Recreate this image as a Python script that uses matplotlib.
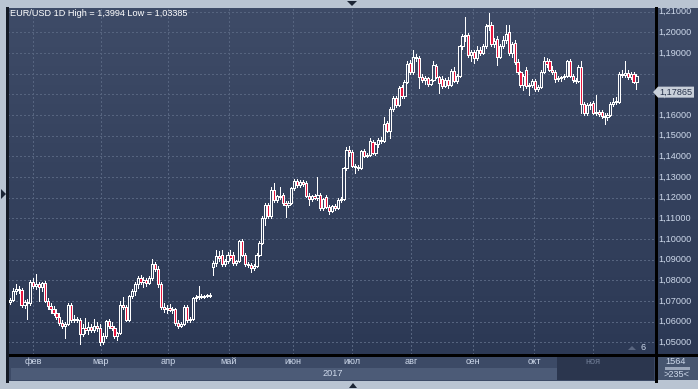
import numpy as np
import matplotlib
matplotlib.use('Agg')
import matplotlib.pyplot as plt
from matplotlib.patches import Rectangle, Polygon
from matplotlib.lines import Line2D
from matplotlib.transforms import blended_transform_factory

plt.rcParams['font.family'] = ['Liberation Sans', 'DejaVu Sans']

# EUR/USD daily candles
opens = [
    1.0695, 1.0705, 1.0750, 1.0760, 1.0755, 1.0680, 1.0695, 1.0690, 1.0790, 1.0775,
    1.0780, 1.0770, 1.0785, 1.0700, 1.0675, 1.0660, 1.0640, 1.0625, 1.0595, 1.0580,
    1.0590, 1.0680, 1.0610, 1.0615, 1.0610, 1.0540, 1.0570, 1.0560, 1.0575, 1.0560,
    1.0580, 1.0570, 1.0500, 1.0530, 1.0605, 1.0580, 1.0570, 1.0530, 1.0545, 1.0680,
    1.0670, 1.0610, 1.0725, 1.0750, 1.0780, 1.0810, 1.0790, 1.0800, 1.0785, 1.0810,
    1.0880, 1.0855, 1.0780, 1.0670, 1.0660, 1.0665, 1.0655, 1.0660, 1.0595, 1.0580,
    1.0590, 1.0670, 1.0610, 1.0615, 1.0715, 1.0720, 1.0725, 1.0720, 1.0725, 1.0728,
    1.0865, 1.0885, 1.0920, 1.0925, 1.0880, 1.0895, 1.0925, 1.0925, 1.0885, 1.0895,
    1.0990, 1.0925, 1.0880, 1.0875, 1.0860, 1.0870, 1.0925, 1.0980, 1.1100, 1.1165,
    1.1110, 1.1235, 1.1190, 1.1210, 1.1215, 1.1175, 1.1165, 1.1175, 1.1245, 1.1280,
    1.1260, 1.1275, 1.1270, 1.1210, 1.1195, 1.1210, 1.1200, 1.1215, 1.1150, 1.1205,
    1.1155, 1.1135, 1.1160, 1.1150, 1.1190, 1.1195, 1.1345, 1.1430, 1.1420, 1.1355,
    1.1350, 1.1345, 1.1425, 1.1400, 1.1405, 1.1470, 1.1415, 1.1460, 1.1480, 1.1475,
    1.1560, 1.1525, 1.1630, 1.1680, 1.1650, 1.1735, 1.1690, 1.1760, 1.1850, 1.1810,
    1.1880, 1.1875, 1.1785, 1.1770, 1.1780, 1.1750, 1.1770, 1.1835, 1.1785, 1.1775,
    1.1740, 1.1770, 1.1745, 1.1815, 1.1765, 1.1790, 1.1935, 1.1980, 1.1985, 1.1890,
    1.1905, 1.1875, 1.1915, 1.1900, 1.1935, 1.2030, 1.2035, 1.1945, 1.1970, 1.1880,
    1.1935, 1.1965, 1.2000, 1.1900, 1.1950, 1.1855, 1.1810, 1.1745, 1.1820, 1.1740,
    1.1745, 1.1765, 1.1725, 1.1735, 1.1810, 1.1860, 1.1860, 1.1820, 1.1810, 1.1775,
    1.1780, 1.1785, 1.1790, 1.1860, 1.1790, 1.1770, 1.1765, 1.1830, 1.1655, 1.1610,
    1.1650, 1.1660, 1.1610, 1.1615, 1.1615, 1.1595, 1.1590, 1.1600, 1.1655, 1.1665,
    1.1665, 1.1800, 1.1795, 1.1805, 1.1785, 1.1800, 1.1760,
]
highs = [
    1.0715, 1.0765, 1.0780, 1.0775, 1.0765, 1.0705, 1.0710, 1.0800, 1.0810, 1.0830,
    1.0790, 1.0790, 1.0795, 1.0715, 1.0690, 1.0675, 1.0660, 1.0640, 1.0610, 1.0600,
    1.0690, 1.0690, 1.0630, 1.0625, 1.0620, 1.0590, 1.0620, 1.0600, 1.0590, 1.0615,
    1.0600, 1.0590, 1.0545, 1.0610, 1.0615, 1.0600, 1.0580, 1.0550, 1.0700, 1.0720,
    1.0680, 1.0730, 1.0760, 1.0790, 1.0820, 1.0825, 1.0815, 1.0810, 1.0820, 1.0905,
    1.0890, 1.0870, 1.0790, 1.0690, 1.0680, 1.0685, 1.0670, 1.0665, 1.0610, 1.0600,
    1.0680, 1.0680, 1.0625, 1.0720, 1.0730, 1.0775, 1.0735, 1.0730, 1.0735, 1.0740,
    1.0895, 1.0945, 1.0940, 1.0945, 1.0905, 1.0935, 1.0945, 1.0935, 1.0900, 1.0995,
    1.1000, 1.0930, 1.0890, 1.0885, 1.0880, 1.0930, 1.0990, 1.1110, 1.1175, 1.1175,
    1.1250, 1.1270, 1.1215, 1.1250, 1.1225, 1.1185, 1.1185, 1.1250, 1.1290, 1.1290,
    1.1285, 1.1285, 1.1280, 1.1225, 1.1215, 1.1220, 1.1300, 1.1225, 1.1200, 1.1215,
    1.1165, 1.1165, 1.1170, 1.1200, 1.1205, 1.1350, 1.1445, 1.1450, 1.1430, 1.1365,
    1.1360, 1.1430, 1.1435, 1.1415, 1.1490, 1.1480, 1.1470, 1.1490, 1.1495, 1.1590,
    1.1570, 1.1640, 1.1690, 1.1690, 1.1740, 1.1745, 1.1770, 1.1860, 1.1865, 1.1915,
    1.1895, 1.1885, 1.1800, 1.1790, 1.1785, 1.1775, 1.1860, 1.1845, 1.1790, 1.1790,
    1.1780, 1.1785, 1.1825, 1.1830, 1.1800, 1.1940, 1.1990, 1.2075, 1.1995, 1.1915,
    1.1915, 1.1935, 1.1930, 1.1945, 1.2040, 1.2092, 1.2050, 1.1975, 1.1980, 1.1945,
    1.1980, 1.2035, 1.2035, 1.1955, 1.1965, 1.1870, 1.1815, 1.1800, 1.1830, 1.1755,
    1.1775, 1.1775, 1.1745, 1.1820, 1.1880, 1.1875, 1.1870, 1.1835, 1.1820, 1.1790,
    1.1790, 1.1800, 1.1865, 1.1870, 1.1800, 1.1780, 1.1840, 1.1860, 1.1665, 1.1660,
    1.1665, 1.1670, 1.1695, 1.1625, 1.1625, 1.1610, 1.1610, 1.1665, 1.1680, 1.1685,
    1.1810, 1.1820, 1.1862, 1.1820, 1.1810, 1.1810, 1.1800,
]
lows = [
    1.0685, 1.0700, 1.0735, 1.0740, 1.0670, 1.0665, 1.0615, 1.0680, 1.0765, 1.0760,
    1.0700, 1.0750, 1.0695, 1.0660, 1.0640, 1.0630, 1.0615, 1.0585, 1.0570, 1.0520,
    1.0585, 1.0600, 1.0600, 1.0600, 1.0490, 1.0530, 1.0545, 1.0540, 1.0550, 1.0550,
    1.0555, 1.0485, 1.0490, 1.0520, 1.0570, 1.0560, 1.0520, 1.0510, 1.0540, 1.0660,
    1.0605, 1.0605, 1.0715, 1.0730, 1.0765, 1.0780, 1.0770, 1.0775, 1.0780, 1.0800,
    1.0845, 1.0770, 1.0660, 1.0645, 1.0640, 1.0650, 1.0640, 1.0585, 1.0570, 1.0575,
    1.0585, 1.0600, 1.0600, 1.0610, 1.0700, 1.0710, 1.0715, 1.0715, 1.0718, 1.0720,
    1.0825, 1.0870, 1.0895, 1.0870, 1.0870, 1.0885, 1.0900, 1.0875, 1.0875, 1.0890,
    1.0920, 1.0870, 1.0865, 1.0840, 1.0850, 1.0865, 1.0920, 1.0975, 1.1070, 1.1100,
    1.1100, 1.1180, 1.1180, 1.1195, 1.1165, 1.1105, 1.1155, 1.1170, 1.1235, 1.1250,
    1.1250, 1.1255, 1.1205, 1.1165, 1.1185, 1.1195, 1.1190, 1.1140, 1.1140, 1.1150,
    1.1120, 1.1130, 1.1140, 1.1145, 1.1180, 1.1190, 1.1335, 1.1400, 1.1350, 1.1320,
    1.1335, 1.1340, 1.1395, 1.1395, 1.1400, 1.1410, 1.1405, 1.1445, 1.1465, 1.1470,
    1.1520, 1.1490, 1.1620, 1.1640, 1.1645, 1.1680, 1.1680, 1.1755, 1.1800, 1.1800,
    1.1860, 1.1730, 1.1760, 1.1750, 1.1740, 1.1745, 1.1765, 1.1780, 1.1705, 1.1730,
    1.1735, 1.1730, 1.1740, 1.1760, 1.1755, 1.1785, 1.1920, 1.1960, 1.1880, 1.1860,
    1.1850, 1.1865, 1.1890, 1.1895, 1.1925, 1.2010, 1.1935, 1.1930, 1.1840, 1.1875,
    1.1925, 1.1950, 1.1890, 1.1880, 1.1845, 1.1800, 1.1735, 1.1720, 1.1730, 1.1695,
    1.1735, 1.1715, 1.1715, 1.1730, 1.1805, 1.1830, 1.1815, 1.1800, 1.1760, 1.1765,
    1.1765, 1.1775, 1.1785, 1.1785, 1.1760, 1.1755, 1.1760, 1.1610, 1.1600, 1.1600,
    1.1630, 1.1605, 1.1600, 1.1595, 1.1585, 1.1555, 1.1575, 1.1595, 1.1645, 1.1655,
    1.1660, 1.1785, 1.1785, 1.1775, 1.1775, 1.1755, 1.1725,
]
closes = [
    1.0705, 1.0750, 1.0760, 1.0755, 1.0680, 1.0695, 1.0690, 1.0790, 1.0775, 1.0780,
    1.0770, 1.0785, 1.0700, 1.0675, 1.0660, 1.0640, 1.0625, 1.0595, 1.0580, 1.0590,
    1.0680, 1.0610, 1.0615, 1.0610, 1.0540, 1.0570, 1.0560, 1.0575, 1.0560, 1.0580,
    1.0570, 1.0500, 1.0530, 1.0605, 1.0580, 1.0570, 1.0530, 1.0545, 1.0680, 1.0670,
    1.0610, 1.0725, 1.0750, 1.0780, 1.0810, 1.0790, 1.0800, 1.0785, 1.0810, 1.0880,
    1.0855, 1.0780, 1.0670, 1.0660, 1.0665, 1.0655, 1.0660, 1.0595, 1.0580, 1.0590,
    1.0670, 1.0610, 1.0615, 1.0715, 1.0720, 1.0725, 1.0720, 1.0725, 1.0728, 1.0725,
    1.0885, 1.0920, 1.0910, 1.0880, 1.0895, 1.0925, 1.0910, 1.0885, 1.0895, 1.0990,
    1.0925, 1.0880, 1.0875, 1.0860, 1.0870, 1.0925, 1.0980, 1.1100, 1.1165, 1.1110,
    1.1235, 1.1190, 1.1210, 1.1205, 1.1175, 1.1165, 1.1175, 1.1245, 1.1280, 1.1260,
    1.1275, 1.1265, 1.1210, 1.1195, 1.1210, 1.1200, 1.1215, 1.1150, 1.1195, 1.1155,
    1.1135, 1.1160, 1.1150, 1.1190, 1.1195, 1.1345, 1.1430, 1.1420, 1.1355, 1.1350,
    1.1345, 1.1425, 1.1400, 1.1405, 1.1475, 1.1415, 1.1460, 1.1480, 1.1475, 1.1555,
    1.1525, 1.1630, 1.1680, 1.1650, 1.1730, 1.1690, 1.1760, 1.1845, 1.1810, 1.1880,
    1.1875, 1.1785, 1.1770, 1.1780, 1.1750, 1.1770, 1.1840, 1.1785, 1.1755, 1.1740,
    1.1770, 1.1745, 1.1815, 1.1765, 1.1790, 1.1935, 1.1980, 1.1985, 1.1890, 1.1905,
    1.1875, 1.1915, 1.1900, 1.1935, 1.2030, 1.2035, 1.1945, 1.1960, 1.1880, 1.1935,
    1.1965, 1.1990, 1.1900, 1.1945, 1.1855, 1.1810, 1.1745, 1.1790, 1.1740, 1.1745,
    1.1765, 1.1725, 1.1735, 1.1810, 1.1860, 1.1845, 1.1820, 1.1810, 1.1775, 1.1780,
    1.1785, 1.1790, 1.1860, 1.1790, 1.1770, 1.1765, 1.1830, 1.1655, 1.1610, 1.1650,
    1.1655, 1.1610, 1.1615, 1.1605, 1.1595, 1.1590, 1.1600, 1.1655, 1.1665, 1.1670,
    1.1800, 1.1795, 1.1805, 1.1785, 1.1800, 1.1760, 1.17865,
]

month_labels = ['фев', 'мар', 'апр', 'май', 'июн', 'июл', 'авг', 'сен', 'окт', 'ноя']
month_pos = [7.9, 31.4, 54.5, 75.5, 97.6, 117.9, 138.3, 159.7, 180.7, 201.0]  # candle index
price_ticks = [1.05, 1.06, 1.07, 1.08, 1.09, 1.10, 1.11, 1.12, 1.13, 1.14,
               1.15, 1.16, 1.17, 1.18, 1.19, 1.20, 1.21]
title = 'EUR/USD 1D High = 1,3994 Low = 1,03385'
year_label = '2017'
last_price = 1.17865

# colours
frame_c = '#b9c4d2'
bg_top = np.array([62, 75, 103]) / 255
bg_bot = np.array([44, 57, 85]) / 255
grid_c = '#56647f'
txt_c = '#cdd8ea'
red_c = '#e8173f'

W, H = 698, 389
fig = plt.figure(figsize=(W / 100, H / 100), dpi=100, facecolor=frame_c)


def box(x0, y0, x1, y1):
    return [x0 / W, 1 - y1 / H, (x1 - x0) / W, (y1 - y0) / H]


def rect(x0, y0, x1, y1, color):
    fig.add_artist(Rectangle((x0 / W, 1 - y1 / H), (x1 - x0) / W, (y1 - y0) / H,
                             transform=fig.transFigure, color=color, lw=0, zorder=-2))


def hline(x0, x1, y, color='black', z=2):
    fig.add_artist(Line2D([x0 / W, x1 / W], [1 - y / H] * 2, color=color, lw=0.75,
                          transform=fig.transFigure, antialiased=False, zorder=z))


def vline(x, y0, y1, color='black'):
    fig.add_artist(Line2D([x / W] * 2, [1 - y0 / H, 1 - y1 / H], color=color, lw=0.75,
                          transform=fig.transFigure, antialiased=False, zorder=2))


def tri(pts, color, z=2):
    fig.add_artist(Polygon([(px / W, 1 - py / H) for px, py in pts], closed=True,
                           transform=fig.transFigure, color=color, lw=0, zorder=z))


# gradient background behind the chart and price scale
bg = fig.add_axes(box(8, 8, 698, 354))
bg.set_zorder(-1)
grad = np.linspace(bg_top, bg_bot, 256)[:, None, :]
bg.imshow(grad, aspect='auto', extent=[0, 1, 0, 1])
bg.axis('off')

ax = fig.add_axes(box(8, 8, 655, 354), facecolor='none')
ymin, ymax = 1.04436, 1.21179
ax.set_xlim(-0.69, 222.41)
ax.set_ylim(ymin, ymax)

o = np.array(opens)
h = np.array(highs)
l = np.array(lows)
c = np.array(closes)
x = np.arange(len(c))
lo = np.minimum(o, c)
hi = np.maximum(o, c)


def bg_at(p):
    t = (ymax - p) / (ymax - ymin)
    return tuple(bg_top + t * (bg_bot - bg_top))


faces = [bg_at((a + b) / 2) if cc >= oo else red_c
         for a, b, oo, cc in zip(lo, hi, o, c)]

ax.vlines(x, hi, h, color='white', lw=0.72, antialiased=False, zorder=3)
ax.vlines(x, l, lo, color='white', lw=0.72, antialiased=False, zorder=3)
ax.bar(x, hi - lo, bottom=lo, width=0.76, color=faces, edgecolor='white',
       linewidth=0.7, antialiased=False, zorder=4)

# grid and price scale
ax.set_xticks(month_pos)
ax.set_yticks(price_ticks)
ax.tick_params(length=0, labelbottom=False, labelleft=False)
ax.grid(True, color=grid_c, linestyle=(0, (2, 3)), linewidth=0.7, antialiased=False)
ax.set_axisbelow(True)
for s in ax.spines.values():
    s.set_visible(False)

ytr = blended_transform_factory(fig.transFigure, ax.transData)
for p in price_ticks:
    if abs(p - 1.18) < 1e-9:
        continue  # hidden under the last-price marker
    ax.text(658.5 / W, p, f'{p:.5f}'.replace('.', ','), transform=ytr, ha='left',
            va='center', fontsize=6.6, color=txt_c, clip_on=False)

# time axis panels
rect(8, 355, 655, 381, '#3c4a66')
rect(11, 368, 557, 380, '#4c5b77')
rect(557, 355, 654, 380, '#2b364e')
rect(656, 355, 698, 380, '#46556f')
hline(8, 698, 354.5)
vline(655.5, 8, 381)
vline(7.5, 8, 381, '#141a26')

tr = blended_transform_factory(ax.transData, fig.transFigure)
for pos, lab in zip(month_pos, month_labels):
    col = '#707d96' if lab == 'ноя' else txt_c
    ax.text(pos, 1 - 361.5 / H, lab, transform=tr, ha='center', va='center',
            fontsize=6.6, color=col, clip_on=False)
fig.text(333 / W, 1 - 374 / H, year_label, ha='center', va='center',
         fontsize=6.6, color=txt_c)

# bottom-right counter
fig.text(676 / W, 1 - 361.5 / H, '1564', ha='center', va='center', fontsize=6.6, color=txt_c)
hline(666, 688, 368, '#9aa6ba')
fig.text(676 / W, 1 - 374.5 / H, '>235<', ha='center', va='center', fontsize=6.6, color=txt_c)

# last price marker
yp = 31 + (1.21 - last_price) * 1950
tri([(653, yp), (658, yp - 5.5), (694, yp - 5.5), (694, yp + 5.5), (658, yp + 5.5)], '#c9d0da')
fig.text(676 / W, 1 - yp / H, f'{last_price:.5f}'.replace('.', ','), ha='center',
         va='center', fontsize=6.6, color='#26314a')

# title and small markers
fig.text(10 / W, 1 - 14 / H, title, ha='left', va='center', fontsize=6.6, color='white')
fig.text(643 / W, 1 - 347.5 / H, '6', ha='center', va='center', fontsize=6.6, color=txt_c)
tri([(628, 350), (636, 350), (632, 346)], '#5a6680')
tri([(347, 1), (357, 1), (352, 6)], '#1c2535')
tri([(1, 189), (1, 199), (6, 194)], '#1c2535')
tri([(349, 388), (357, 388), (353, 383)], '#1c2535')

fig.savefig('out.png', dpi=100, facecolor=fig.get_facecolor())
